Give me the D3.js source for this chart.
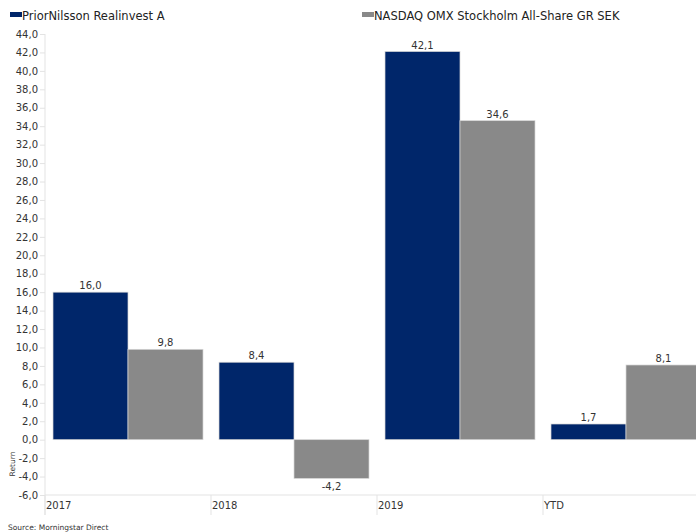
<!DOCTYPE html>
<html>
<head>
<meta charset="utf-8">
<script src="https://cdn.jsdelivr.net/npm/d3@7"></script>
<style>
  body { margin: 0; background: #fff; }
  text { font-family: "DejaVu Sans", Verdana, sans-serif; fill: #333; }
</style>
</head>
<body>
<div id="chart"></div>
<script>
// Data
var categories = ["2017", "2018", "2019", "YTD"];
var seriesNames = ["PriorNilsson Realinvest A", "NASDAQ OMX Stockholm All-Share GR SEK"];
var fundValues = [16.0, 8.4, 42.1, 1.7];
var indexValues = [9.8, -4.2, 34.6, 8.1];
var yTicks = [-6, -4, -2, 0, 2, 4, 6, 8, 10, 12, 14, 16, 18, 20, 22, 24, 26, 28, 30, 32, 34, 36, 38, 40, 42, 44];
var colors = ["#00266a", "#898989"];

var width = 696, height = 532;

var svg = d3.select("#chart")
    .append("svg")
    .attr("width", width)
    .attr("height", height);

// Scales
var y = d3.scaleLinear().domain([-6, 44]).range([495, 34]);
var x = d3.scaleBand().domain(categories).range([45, 709]).paddingInner(0).paddingOuter(0);
var inner = d3.scaleBand().domain([0, 1]).range([8, x.bandwidth() - 8]).padding(0);

var fmt = function (v) { return d3.format(".1f")(v).replace(".", ",").replace("−", "-"); };

// Y axis
var yAxis = svg.append("g")
    .attr("transform", "translate(45,0)")
    .call(d3.axisLeft(y).tickValues(yTicks).tickSize(5).tickFormat(fmt));
yAxis.select(".domain").attr("stroke", "#e3e3e3").attr("d", "M0,34V515");
yAxis.selectAll(".tick line").attr("stroke", "#e3e3e3");
yAxis.selectAll(".tick text")
    .attr("x", -7)
    .style("font-size", "10px")
    .style("font-family", "'DejaVu Sans', Verdana, sans-serif")
    .style("fill", "#333");

// X axis baseline and category separators
svg.append("line")
    .attr("x1", 45).attr("x2", width)
    .attr("y1", y(-6)).attr("y2", y(-6))
    .attr("stroke", "#e3e3e3");

svg.append("g")
    .selectAll("line")
    .data(categories)
    .enter()
    .append("line")
    .attr("x1", function (d) { return x(d); })
    .attr("x2", function (d) { return x(d); })
    .attr("y1", y(-6))
    .attr("y2", 515)
    .attr("stroke", "#e3e3e3");

svg.append("g")
    .selectAll("text")
    .data(categories)
    .enter()
    .append("text")
    .attr("x", function (d) { return x(d) + 1; })
    .attr("y", 509)
    .style("font-size", "10px")
    .text(function (d) { return d; });

// Bars
var rows = [];
categories.forEach(function (c, i) {
    rows.push({ cat: c, s: 0, v: fundValues[i] });
    rows.push({ cat: c, s: 1, v: indexValues[i] });
});

svg.append("g")
    .selectAll("rect")
    .data(rows)
    .enter()
    .append("rect")
    .attr("x", function (d) { return x(d.cat) + inner(d.s); })
    .attr("width", inner.bandwidth())
    .attr("y", function (d) { return y(Math.max(0, d.v)); })
    .attr("height", function (d) { return Math.abs(y(d.v) - y(0)); })
    .attr("fill", function (d) { return colors[d.s]; })
    .attr("stroke", "#d6d6d6")
    .attr("stroke-width", 0.7);

// Value labels
svg.append("g")
    .selectAll("text")
    .data(rows)
    .enter()
    .append("text")
    .attr("x", function (d) { return x(d.cat) + inner(d.s) + inner.bandwidth() / 2; })
    .attr("y", function (d) { return d.v >= 0 ? y(d.v) - 3 : y(d.v) + 12; })
    .attr("text-anchor", "middle")
    .style("font-size", "10px")
    .text(function (d) { return fmt(d.v); });

// Legend
var legendX = [10, 362];
var legend = svg.append("g")
    .selectAll("g")
    .data(seriesNames)
    .enter()
    .append("g")
    .attr("transform", function (d, i) { return "translate(" + legendX[i] + ",16)"; });
legend.append("rect")
    .attr("x", 0).attr("y", -4)
    .attr("width", 12).attr("height", 5)
    .attr("fill", function (d, i) { return colors[i]; });
legend.append("text")
    .attr("x", 12)
    .attr("y", 4)
    .style("font-size", "11.5px")
    .style("fill", "#222")
    .text(function (d) { return d; });

// Y label
svg.append("text")
    .attr("transform", "translate(15,464) rotate(-90)")
    .attr("text-anchor", "middle")
    .style("font-size", "7.5px")
    .text("Return");

// Source
svg.append("text")
    .attr("x", 8)
    .attr("y", 530)
    .style("font-size", "7.5px")
    .text("Source: Morningstar Direct");
</script>
</body>
</html>
